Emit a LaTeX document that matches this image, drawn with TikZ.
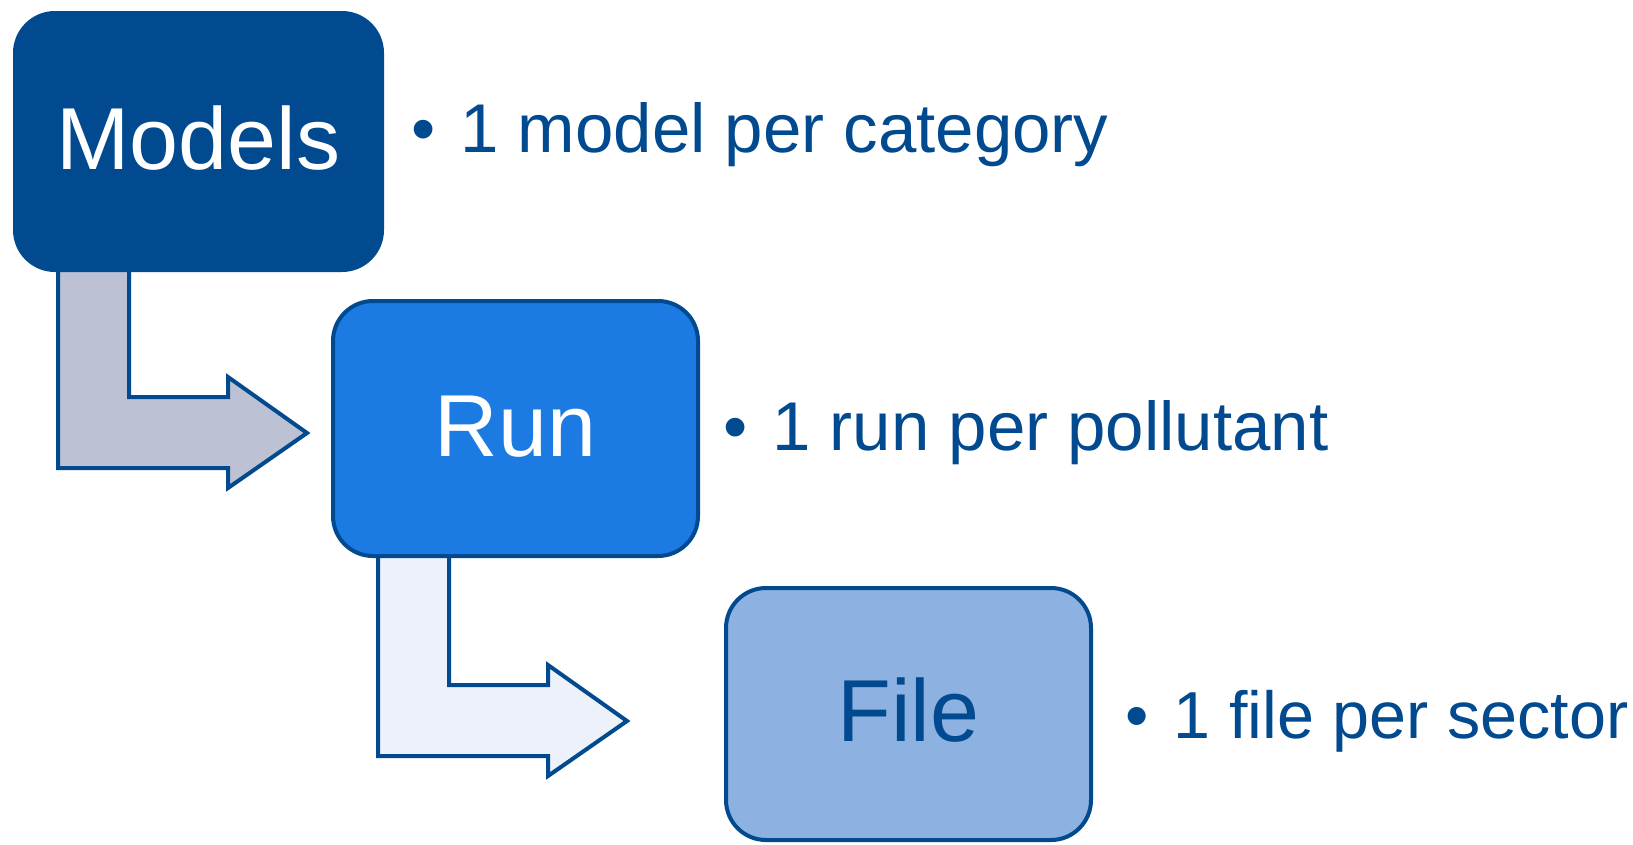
\documentclass[tikz,border=0pt]{standalone}
\usepackage{fontspec}
\setmainfont{Liberation Sans}
\definecolor{dkblue}{HTML}{024A8F}
\definecolor{midblue}{HTML}{1C7BE3}
\definecolor{ltblue}{HTML}{8DB2E1}
\definecolor{arrowgray}{HTML}{BCC2D3}
\definecolor{arrowpale}{HTML}{EDF1F9}
\begin{document}
\begin{tikzpicture}[x=1pt,y=-1pt,
  stepbox/.style={draw=dkblue, line width=4pt, rounded corners=40pt, inner sep=0pt,
    font=\fontsize{88}{100}\selectfont, text height=55pt, text depth=0pt},
  bulletline/.style={anchor=base west, inner sep=0pt, text=dkblue,
    font=\fontsize{69}{80}\selectfont},
  bentarrow/.pic={
    \path[pic actions, draw=dkblue, line width=4pt, line join=miter]
      (0,0) -- (0,218) -- (170,218) -- (170,238) -- (249,183)
      -- (170,127) -- (170,147) -- (71,147) -- (71,0) -- cycle;
  }
]
\useasboundingbox (0,0) rectangle (1633,844);

% bent block arrows (drawn first, tops hidden under boxes)
\pic[fill=arrowgray] (arrowA) at (58,250) {bentarrow};
\pic[fill=arrowpale] (arrowB) at (378,538) {bentarrow};

% boxes
\node[stepbox, fill=dkblue, text=white, minimum width=367pt, minimum height=257pt]
  (models) at (198.5,141.5) {Models};
\node[stepbox, fill=midblue, text=white, minimum width=365pt, minimum height=255pt]
  (run) at (515.5,428.5) {Run};
\node[stepbox, fill=ltblue, text=dkblue, minimum width=365pt, minimum height=252pt]
  (file) at (908.5,714) {File};

% bullet texts
\node[bulletline] (b1) at (411,152) {•\hspace{25pt}1 model per category};
\node[bulletline] (b2) at (723,450) {•\hspace{25pt}1 run per pollutant};
\node[bulletline, font=\fontsize{66.5}{78}\selectfont] (b3) at (1125.5,738) {•\hspace{25pt}1 file per sector};
\end{tikzpicture}
\end{document}
